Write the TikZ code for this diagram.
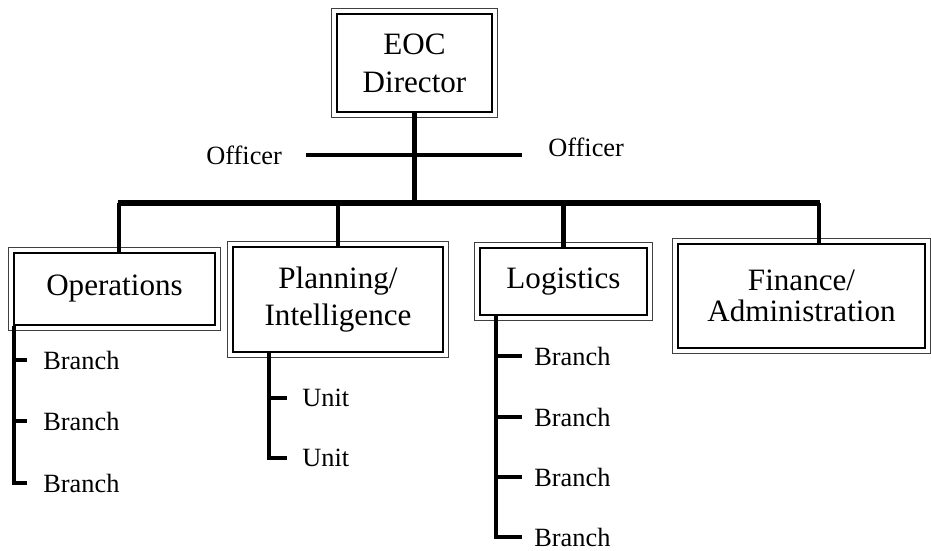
\documentclass[tikz,border=0pt]{standalone}
\usepackage{fontspec}
\setmainfont{Liberation Serif}
\usetikzlibrary{positioning}

\tikzset{
  office/.style={draw, line width=1.1pt, align=center, inner sep=0pt,
    font=\fontsize{17.7}{21.5}\selectfont},
  frame/.style={line width=0.6pt, black!75},
  bar/.style={line width=2.4pt},
  thickbar/.style={line width=2.9pt},
  tag/.style={anchor=west, inner sep=0pt, font=\fontsize{15}{18}\selectfont},
}

\begin{document}
\begin{tikzpicture}[x=0.02cm, y=-0.02cm]
\useasboundingbox (0,0) rectangle (931,551);

% Sections
\node[office, minimum width=3.1cm, minimum height=1.96cm] (eoc) at (414.5,63) {EOC\\Director};
\node[office, minimum width=4.02cm, minimum height=1.44cm] (ops) at (114.5,289) {Operations};
\node[office, minimum width=4.2cm, minimum height=2.1cm] (plan) at (338,299.5) {Planning/\\Intelligence};
\node[office, minimum width=3.34cm, minimum height=1.34cm] (log) at (563.5,281.5) {Logistics};
\node[office, minimum width=4.94cm, minimum height=2.08cm,
  font=\fontsize{17.7}{17.5}\selectfont] (fin) at (801.5,296) {Finance/\\Administration};

% Outer frames
\foreach \n in {eoc,ops,plan,log,fin}
  \draw[frame] ([shift={(-5,-5)}]\n.north west) rectangle ([shift={(5,5)}]\n.south east);

% Officers
\coordinate (offL) at (306,155);
\coordinate (offR) at (522,155);
\node[tag] (officerL) at (206,155) {Officer};
\node[tag] (officerR) at (548,147) {Officer};
\draw[bar] (offL) -- (offR);

% Main bus
\coordinate (busL) at (119,203);
\coordinate (busR) at (819,203);
\draw[bar] (eoc.south) -- (eoc.south |- busL);
\draw[thickbar] ([shift={(-1,0)}]busL) -- ([shift={(1,0)}]busR);
\draw[bar] (busL) -- (busL |- ops.north);
\draw[bar] (plan.north |- busL) -- (plan.north);
\draw[bar] (log.north |- busL) -- (log.north);
\draw[bar] (busR) -- (busR |- fin.north);

% Operations branches
\node[tag] (ob1) at (43,360) {Branch};
\node[tag] (ob2) at (43,421) {Branch};
\node[tag] (ob3) at (43,483) {Branch};
\draw[bar] ([shift={(1,0)}]ops.south west) |- ([shift={(-16,0)}]ob3.west);
\foreach \b in {ob1,ob2}
  \draw[bar] ([shift={(1,0)}]ops.south west |- \b.west) -- ([shift={(-16,0)}]\b.west);

% Planning units
\node[tag] (pu1) at (302,398) {Unit};
\node[tag] (pu2) at (302,458) {Unit};
\draw[bar] ([shift={(37,0)}]plan.south west) |- ([shift={(-15,0)}]pu2.west);
\draw[bar] ([shift={(37,0)}]plan.south west |- pu1.west) -- ([shift={(-15,0)}]pu1.west);

% Logistics branches
\node[tag] (lb1) at (534,356) {Branch};
\node[tag] (lb2) at (534,417) {Branch};
\node[tag] (lb3) at (534,477) {Branch};
\node[tag] (lb4) at (534,537) {Branch};
\draw[bar] ([shift={(17,0)}]log.south west) |- ([shift={(-12,0)}]lb4.west);
\foreach \b in {lb1,lb2,lb3}
  \draw[bar] ([shift={(17,0)}]log.south west |- \b.west) -- ([shift={(-12,0)}]\b.west);
\end{tikzpicture}
\end{document}
